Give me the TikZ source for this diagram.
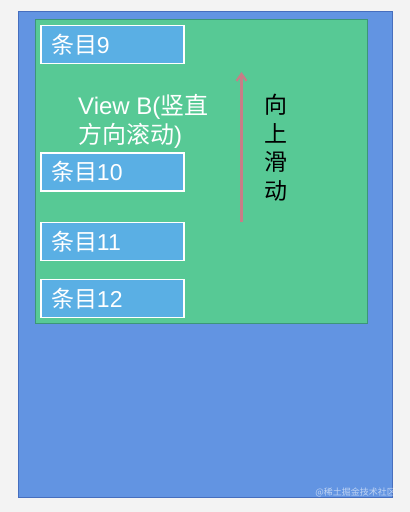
\documentclass[tikz,border=0pt]{standalone}
\usepackage{fontspec}
\setmainfont{Liberation Sans}
\newfontfamily\cjk{Noto Sans CJK SC}
\usetikzlibrary{arrows.meta}
\definecolor{outerblue}{RGB}{98,148,226}
\definecolor{outeredge}{RGB}{70,110,190}
\definecolor{viewgreen}{RGB}{87,201,149}
\definecolor{greenedge}{RGB}{60,150,120}
\definecolor{itemblue}{RGB}{90,175,228}
\definecolor{arrowred}{RGB}{200,125,135}
\definecolor{bggray}{RGB}{243,243,243}
\tikzset{
  itembox/.style={draw=white, line width=1.6pt, fill=itemblue, minimum width=143pt, minimum height=38pt, inner sep=0pt, font=\fontsize{23}{25}\selectfont, text=white, text width=123pt, align=left},
  pane/.style={inner sep=0pt, anchor=north west},
}
\begin{document}
\begin{tikzpicture}[x=1pt,y=-1pt]
\fill[bggray] (0,0) rectangle (410,512);
\useasboundingbox (0,0) rectangle (410,512);
\node[pane, draw=outeredge, line width=0.8pt, fill=outerblue, minimum width=374pt, minimum height=486pt] (outer) at (18,11) {};
\node[pane, draw=greenedge, line width=0.6pt, fill=viewgreen, minimum width=332pt, minimum height=304pt] (view) at (35,19) {};
\node[itembox] (i9) at (112.5,44.5) {{\cjk 条目}9};
\node[itembox] (i10) at (112.5,172) {{\cjk 条目}10};
\node[itembox] (i11) at (112.5,241.5) {{\cjk 条目}11};
\node[itembox] (i12) at (112.5,298.5) {{\cjk 条目}12};
\node[anchor=north west, inner sep=0pt, text=white, align=left, font=\fontsize{24}{28.5}\selectfont] (label) at (78,94.5) {View B({\cjk 竖直}\\{\cjk 方向滚动})};
\coordinate (abot) at (241.5,222);
\coordinate (atop) at (241.5,72);
\draw[arrowred, line width=2.2pt, -{Straight Barb[length=7pt,width=10pt]}] (abot) -- (atop);
\node[anchor=north, inner sep=0pt, align=center, font=\cjk\fontsize{23}{28.5}\selectfont] (dir) at (276,94) {向\\上\\滑\\动};
\node[anchor=east, inner sep=0pt, text=white, opacity=0.6, font=\cjk\fontsize{9}{10}\selectfont] (wm) at (396,492) {@稀土掘金技术社区};
\end{tikzpicture}
\end{document}
